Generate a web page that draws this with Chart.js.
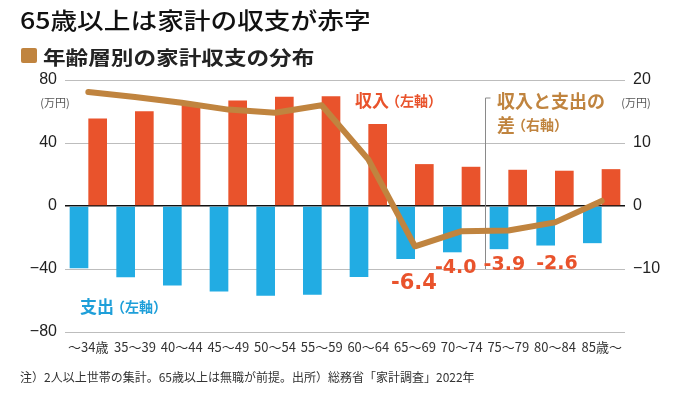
<!DOCTYPE html>
<html><head><meta charset="utf-8">
<script src="https://cdn.jsdelivr.net/npm/chart.js@4.4.1/dist/chart.umd.min.js"></script>
<style>
html,body{margin:0;padding:0;background:#fff;}
#wrap{position:relative;width:681px;height:396px;overflow:hidden;font-family:"Noto Sans CJK JP","Noto Sans",sans-serif;}
#c{position:absolute;left:0;top:0;}
.t{position:absolute;white-space:nowrap;line-height:1;transform-origin:0 0;}
#title{left:20px;top:8px;font-size:23px;font-weight:500;color:#111;transform:scaleX(1.16);}
#sq{position:absolute;left:21px;top:48px;width:16px;height:15px;background:#C0843F;border-radius:2px;}
#sub{left:43px;top:46.5px;font-size:19px;font-weight:700;color:#222;transform:scaleX(1.19);}
#note{left:20px;top:371px;font-size:12px;color:#333;}
</style></head>
<body><div id="wrap">
<canvas id="c" width="681" height="396"></canvas>
<div class="t" id="title">65歳以上は家計の収支が赤字</div>
<div id="sq"></div>
<div class="t" id="sub">年齢層別の家計収支の分布</div>
<div class="t" id="note">注）2人以上世帯の集計。65歳以上は無職が前提。出所）総務省「家計調査」2022年</div>
</div>
<script>
// ---- data ----
const categories = ['～34歳','35～39','40～44','45～49','50～54','55～59','60～64','65～69','70～74','75～79','80～84','85歳～'];
const income  = [55.6, 60.2, 64.5, 67.0, 69.3, 69.7, 52.0, 26.6, 24.9, 23.0, 22.4, 23.4];
const expense = [-39.5, -45.2, -50.5, -54.3, -57.0, -56.4, -45.0, -33.6, -29.4, -27.4, -25.1, -23.6];
const balance = [18.1, 17.3, 16.4, 15.3, 14.8, 16.0, 7.4, -6.4, -4.0, -3.9, -2.6, 0.8];
const leftTicks = [-80, -40, 0, 40, 80];
const rightTicks = [-10, 0, 10, 20];
const labeledIdx = [7, 8, 9, 10];

const RED = '#E9532C', BLUE = '#22ACE3', BROWN = '#C0843F';
const minus = v => (v < 0 ? '−' + Math.abs(v) : String(v));

// label styling (offsets in px from the line point, font size)
const labelStyle = [[-1, 37, 21], [-6, 37, 19], [-4, 34, 19], [2, 42, 19]];

const annot = {
  id: 'annot',
  beforeDatasetsDraw(chart) {
    const {ctx, scales: {x, y}} = chart;
    const lx = Math.round((x.getPixelForValue(8) + x.getPixelForValue(9)) / 2) + 0.5;
    const top = 98, bot = y.getPixelForValue(-40);
    ctx.save();
    ctx.strokeStyle = '#8a8a8a'; ctx.lineWidth = 1;
    ctx.beginPath(); ctx.moveTo(lx + 5, top); ctx.lineTo(lx, top); ctx.lineTo(lx, bot); ctx.stroke();
    ctx.restore();
  },
  afterDatasetsDraw(chart) {
    const {ctx, scales: {x, y, y1}} = chart;
    ctx.save();
    ctx.textBaseline = 'middle';
    const F = 'Noto Sans CJK JP';
    // 収入（左軸）
    ctx.fillStyle = RED; ctx.textAlign = 'left';
    ctx.font = `700 17px "${F}"`;
    let tx = 355; ctx.fillText('収入', tx, 101);
    tx += ctx.measureText('収入').width;
    ctx.font = `700 14px "${F}"`; ctx.fillText('（左軸）', tx - 3, 101);
    // 収入と支出の差（右軸）
    const lx = (x.getPixelForValue(8) + x.getPixelForValue(9)) / 2;
    ctx.fillStyle = BROWN;
    ctx.font = `700 18px "${F}"`;
    ctx.fillText('収入と支出の', lx + 12, 101);
    ctx.fillText('差', lx + 12, 125);
    let w = ctx.measureText('差').width;
    ctx.font = `700 14px "${F}"`; ctx.fillText('（右軸）', lx + 12 + w - 3, 125);
    // 支出（左軸）
    ctx.fillStyle = '#1E9FD9';
    ctx.font = `700 17px "${F}"`;
    ctx.fillText('支出', 80, 307);
    w = ctx.measureText('支出').width;
    ctx.font = `700 14px "${F}"`; ctx.fillText('（左軸）', 80 + w - 3, 307);
    // units
    ctx.fillStyle = '#555';
    ctx.font = `400 11px "${F}"`;
    ctx.textAlign = 'center';
    ctx.fillText('(万円)', 55, 103);
    ctx.fillText('(万円)', 636, 103);
    // value labels
    ctx.fillStyle = RED;
    labeledIdx.forEach((i, k) => {
      const [dx, dy, fs] = labelStyle[k];
      ctx.font = `700 ${fs}px "DejaVu Sans"`;
      const px = x.getPixelForValue(i) + dx;
      const py = y1.getPixelForValue(balance[i]) + dy;
      ctx.fillText('-' + Math.abs(balance[i]).toFixed(1), px, py);
    });
    ctx.restore();
  }
};

new Chart(document.getElementById('c'), {
  data: {
    labels: categories,
    datasets: [
      {type: 'line', label: '収入と支出の差', data: balance, yAxisID: 'y1', borderColor: BROWN, borderWidth: 6,
       pointRadius: 0, tension: 0, borderCapStyle: 'round', borderJoinStyle: 'round', order: 0},
      {type: 'bar', label: '支出', data: expense, yAxisID: 'y', backgroundColor: BLUE, order: 1,
       categoryPercentage: 0.8, barPercentage: 1.0},
      {type: 'bar', label: '収入', data: income, yAxisID: 'y', backgroundColor: RED, order: 1,
       categoryPercentage: 0.8, barPercentage: 1.0}
    ]
  },
  options: {
    responsive: false, animation: false, devicePixelRatio: 1,
    layout: {padding: {top: 80, left: 0, right: 0, bottom: 0}},
    plugins: {legend: {display: false}, tooltip: {enabled: false}},
    scales: {
      x: {
        grid: {display: false, drawTicks: false}, border: {display: false},
        ticks: {autoSkip: false, maxRotation: 0, padding: 7, color: '#333', font: {family: 'Noto Sans CJK JP', size: 13}},
        afterFit(s) { s.height = 64; }
      },
      y: {
        position: 'left', min: -80, max: 80,
        afterBuildTicks(s) { s.ticks = leftTicks.map(v => ({value: v})); },
        grid: {drawTicks: false, color: c => c.tick && c.tick.value === 0 ? '#111' : '#bdbdbd',
               lineWidth: c => c.tick && c.tick.value === 0 ? 1.6 : 1},
        border: {display: false},
        ticks: {padding: 8, color: '#222', font: {family: 'Liberation Sans', size: 16}, callback: v => minus(v)},
        afterFit(s) { s.width = 65; }
      },
      y1: {
        position: 'right', min: -20, max: 20,
        afterBuildTicks(s) { s.ticks = rightTicks.map(v => ({value: v})); },
        grid: {display: false, drawTicks: false}, border: {display: false},
        ticks: {padding: 8, color: '#222', font: {family: 'Liberation Sans', size: 16}, callback: v => minus(v)},
        afterFit(s) { s.width = 56; }
      }
    }
  },
  plugins: [annot]
});
</script>
</body></html>
